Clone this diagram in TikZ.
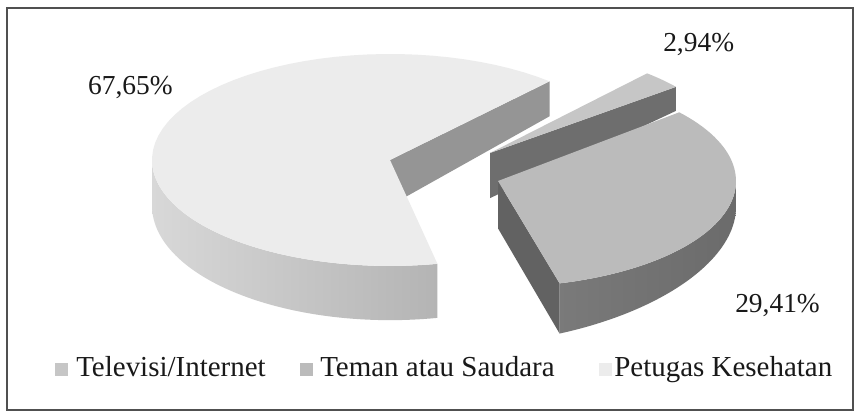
\documentclass[tikz,border=0pt]{standalone}
\usepackage{fontspec}
\setmainfont{Liberation Serif}
\definecolor{petTop}{HTML}{ECECEC}
\definecolor{petWallL}{HTML}{D8D8D8}
\definecolor{petWallR}{HTML}{B4B4B4}
\definecolor{petCut}{HTML}{959595}
\definecolor{tvTop}{HTML}{C6C6C6}
\definecolor{tvCut}{HTML}{6E6E6E}
\definecolor{tmTop}{HTML}{BBBBBB}
\definecolor{tmWall}{HTML}{6B6B6B}
\definecolor{tmCut}{HTML}{626262}
\definecolor{frameGray}{HTML}{505050}
% slice pieces: apex x, apex y, angles, colour
\newcommand{\sliceTop}[5]{\fill[#5] (#1,#2) -- plot[domain=#3:#4,samples=60] ({#1+238*cos(\x)},{#2+106*sin(\x)}) -- cycle;}
\newcommand{\sliceWall}[5]{\shade[#5] plot[domain=#3:#4,samples=60] ({#1+238*cos(\x)},{#2+106*sin(\x)}) -- plot[domain=#4:#3,samples=60] ({#1+238*cos(\x)},{#2+106*sin(\x)-hh(#1+238*cos(\x),#2+106*sin(\x))}) -- cycle;}
\newcommand{\sliceCut}[4]{\fill[#4] (#1,#2) -- ({#1+238*cos(#3)},{#2+106*sin(#3)}) -- ({#1+238*cos(#3)},{#2+106*sin(#3)-hh(#1+238*cos(#3),#2+106*sin(#3))}) -- (#1,{#2-hh(#1,#2)}) -- cycle;}
\begin{document}
\begin{tikzpicture}[x=0.025cm,y=0.025cm,
  declare function={hh(\p,\q)=50-0.09*max(\p-500,0)-0.08*(\q-200);},
  lbl/.style={inner sep=0pt,text=black!90,font=\fontsize{19.5}{23}\selectfont},
  leg/.style={inner sep=0pt,text=black!90,font=\fontsize{20.6}{24}\selectfont,anchor=base west}]
\useasboundingbox (0,0) rectangle (858,414);
\fill[white] (0,0) rectangle (858,414);
\draw[frameGray,line width=1.3pt] (7,4) rectangle (853,406);
% Petugas Kesehatan
\sliceCut{390}{254}{47.9}{petCut}
\sliceWall{390}{254}{180}{281.5}{left color=petWallL,right color=petWallR}
\sliceTop{390}{254}{47.9}{281.5}{petTop}
% Televisi/Internet
\sliceCut{490}{261}{38.6}{tvCut}
\sliceTop{490}{261}{38.6}{48.7}{tvTop}
% Teman atau Saudara
\sliceCut{498}{233}{-75}{tmCut}
\sliceWall{498}{233}{-75}{2}{left color=tmWall!90!white,right color=tmWall}
\sliceTop{498}{233}{-75}{40.4}{tmTop}
% labels
\node[lbl,anchor=base east] (pctPetugas) at (173,319) {67,65\%};
\node[lbl,anchor=base west] (pctTelevisi) at (663,362) {2,94\%};
\node[lbl,anchor=base west] (pctTeman) at (735,101) {29,41\%};
% legend
\foreach \sx/\col in {55/tvTop,300/tmTop,599/petTop} {
\fill[\col] (\sx,38) rectangle ++(13,13);
}
\node[leg] (legTelevisi) at (76,37) {Televisi/Internet};
\node[leg] (legTeman) at (320,37) {Teman atau Saudara};
\node[leg] (legPetugas) at (614,37) {Petugas Kesehatan};
\end{tikzpicture}
\end{document}
